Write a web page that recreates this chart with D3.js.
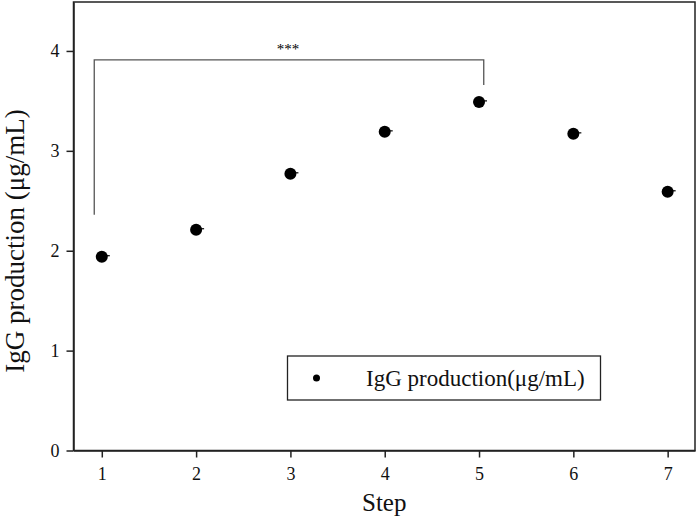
<!DOCTYPE html>
<html>
<head>
<meta charset="utf-8">
<script src="https://cdn.jsdelivr.net/npm/d3@7"></script>
<style>
  body { margin: 0; background: #fff; }
  svg { display: block; font-family: 'Liberation Serif', 'Times New Roman', serif; }
</style>
</head>
<body>
<script>
const width = 699;
const height = 518;

// data
const steps = [1, 2, 3, 4, 5, 6, 7];
const igg = [1.94, 2.21, 2.77, 3.19, 3.49, 3.17, 2.59];
const xTicks = [1, 2, 3, 4, 5, 6, 7];
const yTicks = [0, 1, 2, 3, 4];
// significance bracket: from step ~1 to ~5
const bracketX = [0.92, 5.05];
const bracketTop = 3.91;
const bracketFeet = [2.36, 3.66];

const margin = { top: 2, right: 4, bottom: 67.5, left: 73.5 };

const svg = d3.select('body').append('svg')
  .attr('width', width)
  .attr('height', height);

const x = d3.scaleLinear()
  .domain([0.7, 7.29])
  .range([margin.left, width - margin.right]);

const y = d3.scaleLinear()
  .domain([0, 4.49])
  .range([height - margin.bottom, margin.top]);

// frame
svg.append('rect')
  .attr('x', x.range()[0])
  .attr('y', y.range()[1])
  .attr('width', x.range()[1] - x.range()[0])
  .attr('height', y.range()[0] - y.range()[1])
  .attr('fill', 'none')
  .attr('stroke', '#222')
  .attr('stroke-width', 1.5);

const xAxis = svg.append('g')
  .attr('transform', `translate(0,${y(0)})`)
  .call(d3.axisBottom(x).tickValues(xTicks).tickFormat(d3.format('d'))
    .tickSize(7).tickPadding(10).tickSizeOuter(0));

const yAxis = svg.append('g')
  .attr('transform', `translate(${x.range()[0]},0)`)
  .call(d3.axisLeft(y).tickValues(yTicks).tickFormat(d3.format('d'))
    .tickSize(7).tickPadding(7).tickSizeOuter(0));

[xAxis, yAxis].forEach(g => {
  g.select('.domain').attr('stroke', '#222').attr('stroke-width', 1.5);
  g.selectAll('.tick line').attr('stroke', '#222').attr('stroke-width', 1.5);
  g.selectAll('.tick text')
    .attr('fill', '#111')
    .style('font-family', "'Liberation Serif', serif")
    .style('font-size', '18px');
});

// axis titles
svg.append('text')
  .attr('x', (x.range()[0] + x.range()[1]) / 2)
  .attr('y', 511)
  .attr('text-anchor', 'middle')
  .attr('fill', '#111')
  .style('font-size', '25px')
  .text('Step');

svg.append('text')
  .attr('transform', 'translate(24,241) rotate(-90)')
  .attr('text-anchor', 'middle')
  .attr('fill', '#111')
  .style('font-size', '27px')
  .text('IgG production (μg/mL)');

// significance bracket
const bracket = d3.line()
  .x(d => x(d[0]))
  .y(d => y(d[1]));

svg.append('path')
  .datum([
    [bracketX[0], bracketFeet[0]],
    [bracketX[0], bracketTop],
    [bracketX[1], bracketTop],
    [bracketX[1], bracketFeet[1]]
  ])
  .attr('d', bracket)
  .attr('fill', 'none')
  .attr('stroke', '#555')
  .attr('stroke-width', 1.3);

svg.append('text')
  .attr('x', x((bracketX[0] + bracketX[1]) / 2 - 0.01))
  .attr('y', y(bracketTop) - 6)
  .attr('text-anchor', 'middle')
  .attr('fill', '#000')
  .style('font-family', "'Liberation Serif', serif")
  .style('font-size', '15px')
  .text('***');

// points with their (tiny) error caps
const pts = svg.append('g')
  .selectAll('g')
  .data(steps.map((s, i) => ({ step: s, value: igg[i] })))
  .enter().append('g');

pts.append('line')
  .attr('x1', d => x(d.step))
  .attr('x2', d => x(d.step) + 8)
  .attr('y1', d => y(d.value) - 1)
  .attr('y2', d => y(d.value) - 1)
  .attr('stroke', '#000')
  .attr('stroke-width', 1.2);

pts.append('circle')
  .attr('cx', d => x(d.step))
  .attr('cy', d => y(d.value))
  .attr('r', 6)
  .attr('fill', '#000');

// legend
const legend = svg.append('g')
  .attr('transform', 'translate(287.5,356)');

legend.append('rect')
  .attr('width', 313)
  .attr('height', 44)
  .attr('fill', '#fff')
  .attr('stroke', '#222')
  .attr('stroke-width', 1.3);

legend.append('circle')
  .attr('cx', 29)
  .attr('cy', 22)
  .attr('r', 3.5)
  .attr('fill', '#000');

legend.append('text')
  .attr('x', 78.5)
  .attr('y', 30)
  .attr('fill', '#111')
  .style('font-size', '23px')
  .text('IgG production(μg/mL)');
</script>
</body>
</html>
